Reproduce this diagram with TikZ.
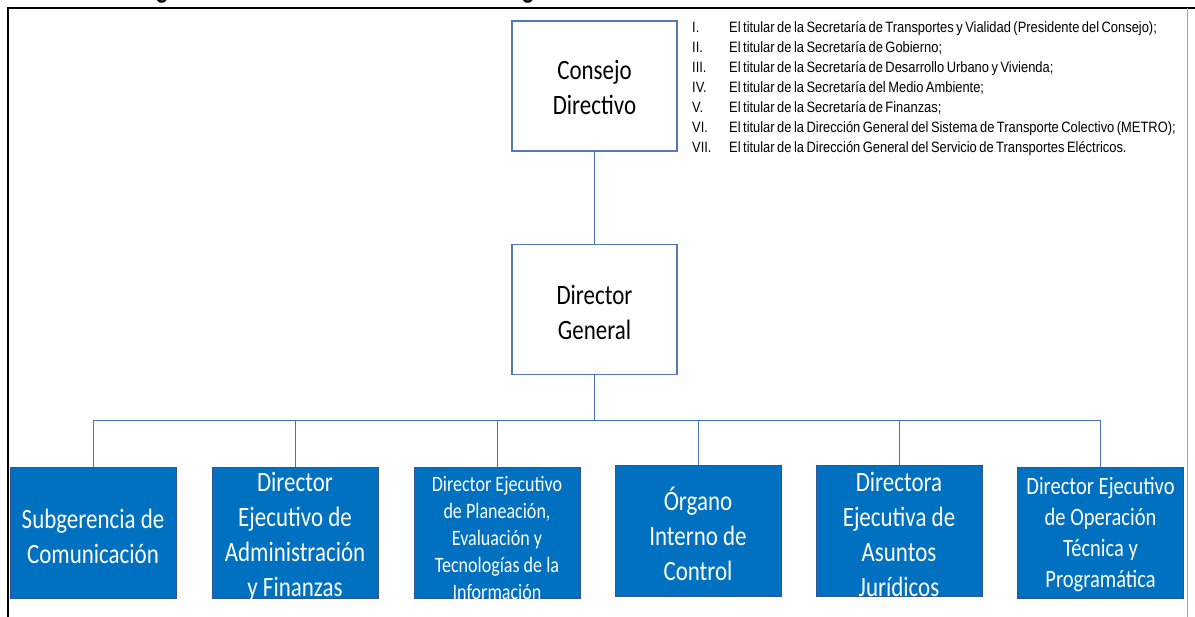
\documentclass[tikz,border=0pt]{standalone}
\usepackage{fontspec}
\setmainfont{Carlito}
\newfontfamily\boxfont[FakeStretch=0.82]{Carlito}
\newfontfamily\titlefont[FakeStretch=0.82]{Carlito}
\newfontfamily\listfont[FakeStretch=0.86,WordSpace=0.7]{Liberation Sans}
\definecolor{unitblue}{HTML}{0070C0}
\definecolor{unitedge}{HTML}{2F5597}
\definecolor{headedge}{HTML}{5677B5}
\definecolor{linkblue}{HTML}{4472C4}
\definecolor{framegray}{HTML}{A6A6A6}

\tikzset{
  headbox/.style={draw=headedge, line width=1.3pt, fill=white, inner sep=0pt,
    minimum width=165pt, minimum height=130pt},
  unitbox/.style={draw=unitedge, line width=0.8pt, fill=unitblue, inner sep=0pt,
    minimum width=166pt, minimum height=131pt},
  link/.style={draw=linkblue, line width=1pt},
  headtxt/.style={align=center, inner sep=0pt, text=black,
    font=\boxfont\fontsize{28}{35}\selectfont},
  unittxt/.style={align=center, inner sep=0pt, text=white,
    font=\boxfont\fontsize{28}{35}\selectfont},
  smalltxt/.style={align=center, inner sep=0pt, text=white,
    font=\boxfont\fontsize{22}{27}\selectfont},
  midtxt/.style={align=center, inner sep=0pt, text=white,
    font=\boxfont\fontsize{25}{31}\selectfont},
  listnum/.style={anchor=base west, inner sep=0pt, text=black,
    font=\listfont\fontsize{15}{20}\selectfont},
  listitem/.style={anchor=base west, inner sep=0pt, text=black,
    font=\listfont\fontsize{15}{20}\selectfont},
}

\begin{document}
\begin{tikzpicture}[x=1pt,y=-1pt]
\useasboundingbox (0,0) rectangle (1195,617);
\fill[white] (0,0) rectangle (1195,617);

% heading above the frame (only its descenders fall inside the page)
\node[anchor=base, inner sep=0pt, font=\titlefont\bfseries\fontsize{28}{34}\selectfont]
  (headA) at (162,-1.5) {g};
\node[anchor=base, inner sep=0pt, font=\titlefont\bfseries\fontsize{28}{34}\selectfont]
  (headB) at (528,-1.5) {g};

% frame
\draw[line width=2pt] (1195,8) -- (8,8) -- (8,617);
\draw[framegray, line width=0.8pt] (1187,8) -- (1187,617);

% upper levels
\node[headbox] (consejo) at (594.5,86) {};
\node[headtxt] (consejoT) at (594.5,87) {Consejo\\Directivo};
\node[headbox] (dg) at (594.5,309.5) {};
\node[headtxt] (dgT) at (594.5,312) {Director\\General};

% members of the board
\foreach \n/\t [count=\i from 0] in {
  I./El titular de la Secretaría de Transportes y Vialidad (Presidente del Consejo);,
  II./El titular de la Secretaría de Gobierno;,
  III./El titular de la Secretaría de Desarrollo Urbano y Vivienda;,
  IV./El titular de la Secretaría del Medio Ambiente;,
  V./El titular de la Secretaría de Finanzas;,
  VI./El titular de la Dirección General del Sistema de Transporte Colectivo (METRO);,
  VII./El titular de la Dirección General del Servicio de Transportes Eléctricos.}
{
  \node[listnum] (num\i) at (692,33+20*\i) {\n};
  \node[listitem] (item\i) at (729,33+20*\i) {\t};
}

% units
\node[unitbox] (b1) at (93,532.5) {};
\node[unitbox] (b2) at (295,532.5) {};
\node[unitbox] (b3) at (497,532.5) {};
\node[unitbox] (b4) at (698,531) {};
\node[unitbox] (b5) at (899,531) {};
\node[unitbox] (b6) at (1100.5,533) {};

\begin{scope}
  \clip (b1.south west) rectangle (b1.north east);
  \node[unittxt] (t1) at (93,536) {Subgerencia de\\Comunicación};
\end{scope}
\begin{scope}
  \clip (b2.south west) rectangle (b2.north east);
  \node[unittxt] (t2) at (295,537) {Director\\Ejecutivo de\\Administración\\y Finanzas};
\end{scope}
\begin{scope}
  \clip (b3.south west) rectangle (b3.north east);
  \node[smalltxt] (t3) at (497,538) {Director Ejecutivo\\de Planeación,\\Evaluación y\\Tecnologías de la\\Información};
\end{scope}
\begin{scope}
  \clip (b4.south west) rectangle (b4.north east);
  \node[unittxt] (t4) at (698,534) {Órgano\\Interno de\\Control};
\end{scope}
\begin{scope}
  \clip (b5.south west) rectangle (b5.north east);
  \node[unittxt] (t5) at (899,534) {Directora\\Ejecutiva de\\Asuntos\\Jurídicos};
\end{scope}
\begin{scope}
  \clip (b6.south west) rectangle (b6.north east);
  \node[midtxt] (t6) at (1100.5,535) {Director Ejecutivo\\de Operación\\Técnica y\\Programática};
\end{scope}

% connectors
\coordinate (bus) at (594.5,421);
\draw[link] (consejo.south) -- (dg.north);
\draw[link] (dg.south) -- (bus);
\foreach \b in {b1,b2,b3,b4,b5,b6}
  \draw[link] (\b.north) |- (bus);
\end{tikzpicture}
\end{document}
